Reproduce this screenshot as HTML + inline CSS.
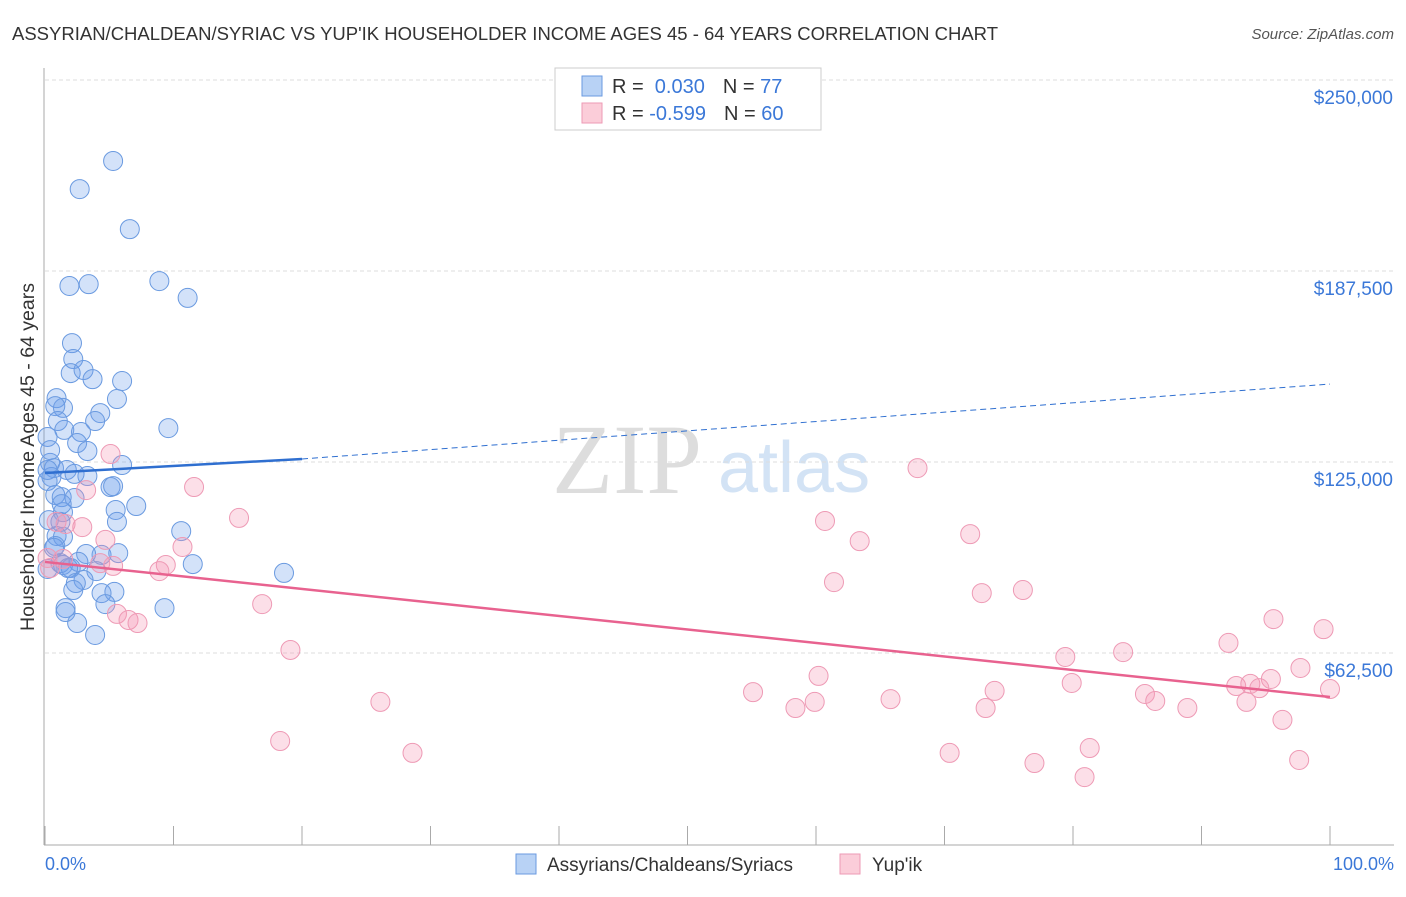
<!DOCTYPE html>
<html><head><meta charset="utf-8"><style>
body{margin:0;background:#fff;font-family:"Liberation Sans",sans-serif}
</style></head><body>
<svg width="1406" height="892" viewBox="0 0 1406 892" xmlns="http://www.w3.org/2000/svg" font-family="Liberation Sans, sans-serif">
<text x="12" y="40" font-size="18.5" fill="#333">ASSYRIAN/CHALDEAN/SYRIAC VS YUP'IK HOUSEHOLDER INCOME AGES 45 - 64 YEARS CORRELATION CHART</text>
<text x="1394" y="39" font-size="15" fill="#555" font-style="italic" text-anchor="end">Source: ZipAtlas.com</text>
<g>
<text x="552" y="493" font-size="100" fill="#ddd" font-family="Liberation Serif, serif">ZIP</text>
<text x="718" y="492" font-size="72" fill="#d3e3f5">atlas</text>
</g>
<g id="grid"></g>
<g id="axes"></g>
<g id="marks"></g>
<text transform="translate(34,457) rotate(-90)" font-size="19.5" fill="#333" text-anchor="middle">Householder Income Ages 45 - 64 years</text>
<text x="45" y="870" font-size="18" fill="#3b78d8">0.0%</text>
<text x="1394" y="870" font-size="18" fill="#3b78d8" text-anchor="end">100.0%</text>
<g>
<rect x="555" y="68" width="266" height="62" fill="#fff" stroke="#ccc"/>
<rect x="582" y="76" width="20" height="20" fill="#b8d2f5" stroke="#6a9ae0"/>
<rect x="582" y="103" width="20" height="20" fill="#fbcdd9" stroke="#ee9ab5"/>
<text x="612" y="93" font-size="20" fill="#333">R = <tspan fill="#3b78d8">&#160;0.030</tspan><tspan dx="18">N = </tspan><tspan fill="#3b78d8">77</tspan></text>
<text x="612" y="120" font-size="20" fill="#333">R = <tspan fill="#3b78d8">-0.599</tspan><tspan dx="18">N = </tspan><tspan fill="#3b78d8">60</tspan></text>
</g>
<g>
<rect x="516" y="854" width="20" height="20" fill="#b8d2f5" stroke="#6a9ae0"/>
<text x="547" y="871" font-size="19" fill="#333">Assyrians/Chaldeans/Syriacs</text>
<rect x="840" y="854" width="20" height="20" fill="#fbcdd9" stroke="#ee9ab5"/>
<text x="872" y="871" font-size="19" fill="#333">Yup'ik</text>
</g>
</svg>
<script>
const yTicks=[62500,125000,187500,250000];
const yTickLabels=["$62,500","$125,000","$187,500","$250,000"];
const blueX=[5.3,2.7,6.6,1.9,3.4,8.9,11.1,2.1,2.2,2.0,3.0,3.7,6.0,0.9,5.6,1.4,0.8,4.3,1.0,3.9,1.5,2.8,9.6,0.2,2.5,3.3,6.0,0.4,0.7,1.7,3.3,0.5,0.2,2.3,5.1,5.3,0.8,1.3,2.3,7.1,5.5,1.4,5.6,0.3,0.9,1.4,10.6,0.8,0.7,4.4,3.2,5.7,2.6,1.2,1.4,11.5,18.6,2.0,1.8,4.0,3.0,2.4,2.2,5.4,4.4,1.6,4.7,9.3,1.6,2.5,3.9,0.2,0.4,0.2,1.2,1.3];
const blueY=[223.5,214.3,201.2,182.6,183.2,184.2,178.7,163.9,158.7,154.1,155.1,152.1,151.5,145.9,145.6,142.7,143.3,141.0,138.4,138.4,135.5,134.8,136.1,133.2,131.2,128.6,124.0,124.7,123.0,122.4,120.4,120.1,118.8,121.1,116.8,117.1,114.2,113.5,113.2,110.6,109.3,108.6,105.4,106.0,100.8,100.5,102.4,97.5,96.9,94.6,94.9,95.2,92.3,91.9,91.3,91.6,88.7,90.3,90.3,89.3,86.4,85.4,83.1,82.5,82.1,77.2,78.5,77.2,75.9,72.3,68.4,122.4,128.9,90.0,105.4,111.2];
const pinkX=[5.1,67.9,11.6,3.2,15.1,0.9,1.6,2.9,60.7,72.0,63.4,10.7,1.4,5.3,9.4,4.3,8.9,61.4,76.1,72.9,16.9,5.6,6.5,7.2,95.6,99.5,92.1,19.1,79.4,83.9,97.7,60.2,79.9,92.7,93.8,95.4,94.5,55.1,73.9,100,85.6,26.1,65.8,59.9,86.4,58.4,73.2,88.9,93.5,96.3,18.3,81.3,28.6,70.4,77.0,80.9,97.6,0.4,0.2,4.7];
const pinkY=[127.6,123.0,116.8,115.8,106.7,105.4,104.7,103.7,105.7,101.4,99.1,97.2,93.3,91.0,91.3,91.9,89.3,85.7,83.1,82.1,78.5,75.3,73.3,72.3,73.6,70.3,65.8,63.5,61.2,62.8,57.6,55.0,52.7,51.7,52.4,54.0,51.0,49.7,50.1,50.7,49.1,46.5,47.4,46.5,46.8,44.5,44.5,44.5,46.5,40.6,33.7,31.4,29.8,29.8,26.5,21.9,27.5,90.3,93.6,99.5];
const blueTrendX=[0,20,100];
const blueTrendY=[121.4,126.0,150.5];
const pinkTrendX=[0,100];
const pinkTrendY=[92.3,48.1];
const xs=p=>45+p/100*1285;
const ys=v=>844-v/62500*191;
const yk=k=>ys(k*1000);
const NS="http://www.w3.org/2000/svg";
function mk(tag,attrs,parent){const e=document.createElementNS(NS,tag);for(const k in attrs)e.setAttribute(k,attrs[k]);parent.appendChild(e);return e;}
const grid=document.getElementById('grid'),axes=document.getElementById('axes'),marks=document.getElementById('marks');
yTicks.forEach((t,i)=>{
 const l=mk('line',{x1:45,x2:1394,y1:ys(t),y2:ys(t),stroke:'#ddd','stroke-dasharray':'4,3'},grid);
 
 
 const tx=mk('text',{x:1393,y:ys(t)+24,'font-size':19,fill:'#3b78d8','text-anchor':'end'},axes);
 tx.textContent=yTickLabels[i];
 
 
});
const al=mk('line',{x1:44,x2:44,y1:68,y2:845,stroke:'#aaa'},axes);


const bl=mk('line',{x1:44,x2:1394,y1:845,y2:845,stroke:'#aaa'},axes);


for(let i=0;i<=10;i++){const t=mk('line',{x1:xs(i*10),x2:xs(i*10),y1:826,y2:845,stroke:'#aaa'},axes);
 
 }
function dots(X,Y,fill,stroke,name){X.forEach((x,i)=>{const c=mk('circle',{cx:xs(x),cy:yk(Y[i]),r:9.5,fill:fill,stroke:stroke,'stroke-width':1},marks);
 
 });}
dots(blueX,blueY,'rgba(110,160,235,0.3)','#6a9ae0','assyrian-point');
dots(pinkX,pinkY,'rgba(244,150,180,0.3)','#ee9ab5','yupik-point');
const b1=mk('line',{x1:xs(blueTrendX[0]),y1:yk(blueTrendY[0]),x2:xs(blueTrendX[1]),y2:yk(blueTrendY[1]),stroke:'#2f6fd0','stroke-width':2.5},marks);


const b2=mk('line',{x1:xs(blueTrendX[1]),y1:yk(blueTrendY[1]),x2:xs(blueTrendX[2]),y2:yk(blueTrendY[2]),stroke:'#2f6fd0','stroke-width':1,'stroke-dasharray':'6,4'},marks);


const p1=mk('line',{x1:xs(pinkTrendX[0]),y1:yk(pinkTrendY[0]),x2:xs(pinkTrendX[1]),y2:yk(pinkTrendY[1]),stroke:'#e8628f','stroke-width':2.5},marks);


</script>
</body></html>
